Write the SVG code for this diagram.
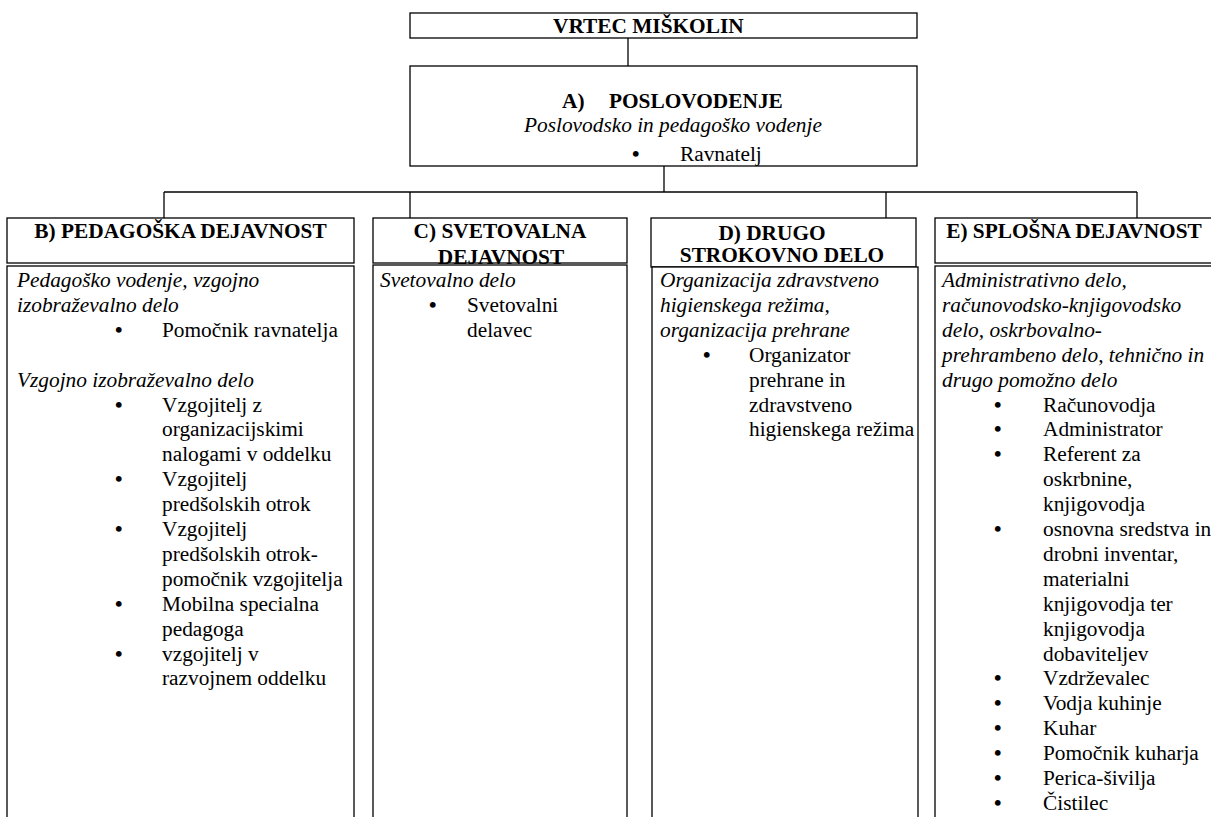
<svg xmlns="http://www.w3.org/2000/svg" width="1211" height="817" viewBox="0 0 1211 817">
<style>
.box{fill:#fff;stroke:#000;stroke-width:1.3}
.frame{fill:none;stroke:#000;stroke-width:1.3}
.t{font-family:"Liberation Serif","Times New Roman",serif;font-size:21.33px;fill:#000}
.b{font-weight:bold}
.i{font-style:italic}
.c{text-anchor:middle}
.bu{font-weight:bold}
.conn line{stroke:#000;stroke-width:1.3}
</style>
<rect width="1211" height="817" fill="#fff"/>
<g class="conn" id="connectors">
<line x1="628" y1="38" x2="628" y2="66"/>
<line x1="664" y1="166" x2="664" y2="192"/>
<line x1="164" y1="192" x2="1137" y2="192"/>
<line x1="164" y1="192" x2="164" y2="218"/>
<line x1="410" y1="192" x2="410" y2="218"/>
<line x1="886" y1="192" x2="886" y2="218"/>
<line x1="1137" y1="192" x2="1137" y2="218"/>
</g>
<g id="vrtec">
<rect class="box" x="410" y="13" width="507" height="25"/>
<text class="t b" x="553" y="33">VRTEC MIŠKOLIN</text>
</g>
<g id="poslovodenje">
<rect class="box" x="410" y="66" width="507" height="100"/>
<text class="t b" x="562" y="108">A)</text>
<text class="t b" x="609" y="108">POSLOVODENJE</text>
<text class="t i" x="524" y="131.5">Poslovodsko in pedagoško vodenje</text>
<text class="t bu" x="632" y="161">•</text>
<text class="t" x="680" y="161">Ravnatelj</text>
</g>
<g id="pedagoska">
<rect class="box" x="7" y="218" width="347" height="45"/>
<text class="t b c" x="180.5" y="238">B) PEDAGOŠKA DEJAVNOST</text>
<rect class="box" x="7" y="266" width="347" height="580"/>
<g class="t i">
<text x="17" y="287">Pedagoško vodenje, vzgojno</text>
<text x="17" y="311.9">izobraževalno delo</text>
<text x="17" y="386.6">Vzgojno izobraževalno delo</text>
</g>
<g class="t">
<text class="bu" x="115" y="336.8">•</text>
<text x="162" y="336.8">Pomočnik ravnatelja</text>
<text class="bu" x="115" y="411.5">•</text>
<text x="162" y="411.5">Vzgojitelj z</text>
<text x="162" y="436.4">organizacijskimi</text>
<text x="162" y="461.3">nalogami v oddelku</text>
<text class="bu" x="115" y="486.2">•</text>
<text x="162" y="486.2">Vzgojitelj</text>
<text x="162" y="511.1">predšolskih otrok</text>
<text class="bu" x="115" y="536">•</text>
<text x="162" y="536">Vzgojitelj</text>
<text x="162" y="560.9">predšolskih otrok-</text>
<text x="162" y="585.8">pomočnik vzgojitelja</text>
<text class="bu" x="115" y="610.7">•</text>
<text x="162" y="610.7">Mobilna specialna</text>
<text x="162" y="635.6">pedagoga</text>
<text class="bu" x="115" y="660.5">•</text>
<text x="162" y="660.5">vzgojitelj v</text>
<text x="162" y="685.4">razvojnem oddelku</text>
</g>
</g>
<g id="svetovalna">
<text class="t b c" x="500" y="238">C) SVETOVALNA</text>
<text class="t b c" x="501" y="264">DEJAVNOST</text>
<rect class="frame" x="373" y="218" width="254" height="45"/>
<rect class="box" x="373" y="265" width="254" height="580"/>
<text class="t i" x="380" y="287">Svetovalno delo</text>
<text class="t bu" x="429" y="311.9">•</text>
<text class="t" x="467" y="311.9">Svetovalni</text>
<text class="t" x="467" y="336.8">delavec</text>
</g>
<g id="strokovno">
<rect class="box" x="651" y="218" width="265" height="49"/>
<text class="t b c" x="772" y="240">D) DRUGO</text>
<text class="t b c" x="782" y="262">STROKOVNO DELO</text>
<rect class="box" x="652" y="267" width="266" height="580"/>
<g class="t i">
<text x="660" y="287">Organizacija zdravstveno</text>
<text x="660" y="311.9">higienskega režima,</text>
<text x="660" y="336.8">organizacija prehrane</text>
</g>
<g class="t">
<text class="bu" x="703" y="361.7">•</text>
<text x="749" y="361.7">Organizator</text>
<text x="749" y="386.6">prehrane in</text>
<text x="749" y="411.5">zdravstveno</text>
<text x="749" y="436.4">higienskega režima</text>
</g>
</g>
<g id="splosna">
<rect class="box" x="935" y="218" width="290" height="45"/>
<text class="t b c" x="1074" y="238">E) SPLOŠNA DEJAVNOST</text>
<rect class="box" x="935" y="266" width="290" height="580"/>
<g class="t i">
<text x="942" y="287">Administrativno delo,</text>
<text x="942" y="311.9">računovodsko-knjigovodsko</text>
<text x="942" y="336.8">delo, oskrbovalno-</text>
<text x="942" y="361.7">prehrambeno delo, tehnično in</text>
<text x="942" y="386.6">drugo pomožno delo</text>
</g>
<g class="t">
<text class="bu" x="994" y="411.5">•</text>
<text x="1043" y="411.5">Računovodja</text>
<text class="bu" x="994" y="436.4">•</text>
<text x="1043" y="436.4">Administrator</text>
<text class="bu" x="994" y="461.3">•</text>
<text x="1043" y="461.3">Referent za</text>
<text x="1043" y="486.2">oskrbnine,</text>
<text x="1043" y="511.1">knjigovodja</text>
<text class="bu" x="994" y="536">•</text>
<text x="1043" y="536">osnovna sredstva in</text>
<text x="1043" y="560.9">drobni inventar,</text>
<text x="1043" y="585.8">materialni</text>
<text x="1043" y="610.7">knjigovodja ter</text>
<text x="1043" y="635.6">knjigovodja</text>
<text x="1043" y="660.5">dobaviteljev</text>
<text class="bu" x="994" y="685.4">•</text>
<text x="1043" y="685.4">Vzdrževalec</text>
<text class="bu" x="994" y="710.3">•</text>
<text x="1043" y="710.3">Vodja kuhinje</text>
<text class="bu" x="994" y="735.2">•</text>
<text x="1043" y="735.2">Kuhar</text>
<text class="bu" x="994" y="760.1">•</text>
<text x="1043" y="760.1">Pomočnik kuharja</text>
<text class="bu" x="994" y="785">•</text>
<text x="1043" y="785">Perica-šivilja</text>
<text class="bu" x="994" y="809.9">•</text>
<text x="1043" y="809.9">Čistilec</text>
</g>
</g>
</svg>
